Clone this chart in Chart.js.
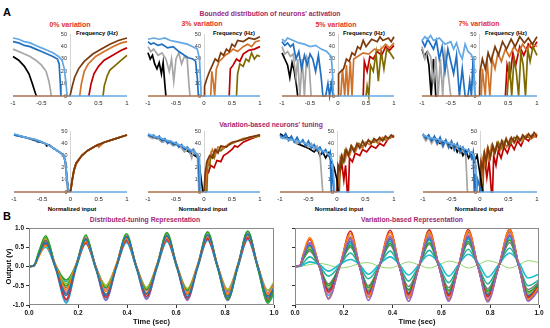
<!DOCTYPE html>
<html>
<head>
<meta charset="utf-8">
<script src="https://cdn.jsdelivr.net/npm/chart.js@4.4.1/dist/chart.umd.min.js"></script>
<style>
html, body { margin: 0; padding: 0; background: #fff; }
body { width: 550px; height: 328px; position: relative; overflow: hidden; font-family: "Liberation Sans", Arial, sans-serif; }
canvas { position: absolute; }
.t { position: absolute; white-space: nowrap; font-weight: bold; transform: translate(-50%, -50%); line-height: 1; }
.l { position: absolute; white-space: nowrap; font-weight: bold; transform: translateY(-50%); line-height: 1; font-size: 5.8px; }
.purple { color: #a2276f; }
.red { color: #e3312d; }
</style>
</head>
<body>
<div class="t" style="left:7px;top:12px;font-size:11px">A</div>
<div class="t purple" style="left:270px;top:14px;font-size:6.8px">Bounded distribution of neurons' activation</div>
<div class="t red" style="left:70px;top:24px;font-size:7px">0% variation</div>
<div class="t red" style="left:202px;top:23px;font-size:7px">3% variation</div>
<div class="t red" style="left:336px;top:24px;font-size:7px">5% variation</div>
<div class="t red" style="left:479px;top:23px;font-size:7px">7% variation</div>
<div class="l" style="left:76px;top:34px">Frequency (Hz)</div>
<div class="l" style="left:213px;top:34px">Frequency (Hz)</div>
<div class="l" style="left:343px;top:34px">Frequency (Hz)</div>
<div class="l" style="left:485px;top:34px">Frequency (Hz)</div>
<div class="t purple" style="left:271px;top:125px;font-size:6.8px">Variation-based neurons' tuning</div>
<div class="t" style="left:72px;top:209px;font-size:6px">Normalized input</div>
<div class="t" style="left:203px;top:209px;font-size:6px">Normalized input</div>
<div class="t" style="left:339px;top:209px;font-size:6px">Normalized input</div>
<div class="t" style="left:479px;top:209px;font-size:6px">Normalized input</div>
<div class="t" style="left:7px;top:216px;font-size:11px">B</div>
<div class="t purple" style="left:145px;top:220px;font-size:6.8px">Distributed-tuning Representation</div>
<div class="t purple" style="left:412px;top:220px;font-size:6.8px">Variation-based Representation</div>

<script>
// ---------- panel A data ----------
const xTicksA = [-1, -0.5, 0, 0.5, 1];
const yTicksA = [0, 10, 20, 30, 40, 50];
// black, gray, blue, light blue, dark brown, orange, red, olive
const curveColors = ['#000000', '#a6a6a6', '#1f6fc2', '#62a8e5', '#7b3a0c', '#d0722a', '#c00000', '#7f6a00'];
const zeroLeft = [[-1, 0], [0, 0]];
const zeroRight = [[0, 0], [1, 0]];

// bounded distribution of activation
const bounded0 = [
  [[-1,32],[-0.9,29],[-0.8,24],[-0.72,18],[-0.66,10],[-0.62,4],[-0.59,0]],
  [[-1,38],[-0.9,36],[-0.8,34],[-0.7,32],[-0.6,29],[-0.5,25],[-0.42,20],[-0.37,12],[-0.34,4],[-0.33,0]],
  [[-1,44],[-0.9,43],[-0.8,41],[-0.7,40],[-0.6,38],[-0.5,36],[-0.4,34],[-0.3,32],[-0.22,30],[-0.19,26],[-0.17,10],[-0.16,0]],
  [[-1,47],[-0.9,46],[-0.8,44],[-0.7,43],[-0.6,41],[-0.5,39],[-0.4,37],[-0.3,35],[-0.2,32],[-0.14,29],[-0.1,22],[-0.07,10],[-0.05,0]],
  [[0,0],[0.04,8],[0.08,15],[0.15,22],[0.25,28],[0.4,34],[0.55,38],[0.7,42],[0.85,45],[1,47]],
  [[0.17,0],[0.2,10],[0.25,20],[0.32,26],[0.45,32],[0.6,36],[0.75,40],[0.9,43],[1,44]],
  [[0.33,0],[0.37,10],[0.42,18],[0.5,24],[0.6,29],[0.75,33],[0.9,37],[1,39]],
  [[0.58,0],[0.6,8],[0.65,16],[0.7,21],[0.8,25],[0.9,29],[1,33]]
];
const bounded3 = [
  [[-1,35],[-0.96,30],[-0.92,33],[-0.88,26],[-0.84,22],[-0.8,27],[-0.76,18],[-0.73,27],[-0.7,10],[-0.68,0]],
  [[-1,40],[-0.95,36],[-0.9,38],[-0.82,33],[-0.75,35],[-0.68,30],[-0.62,20],[-0.58,30],[-0.54,12],[-0.5,30],[-0.45,35],[-0.4,26],[-0.35,32],[-0.3,30],[-0.27,10],[-0.25,0]],
  [[-1,44],[-0.95,42],[-0.9,43],[-0.82,41],[-0.75,42],[-0.65,39],[-0.55,40],[-0.45,36],[-0.35,33],[-0.28,31],[-0.2,30],[-0.15,28],[-0.12,15],[-0.1,0]],
  [[-1,46],[-0.9,47],[-0.8,46],[-0.7,47],[-0.6,45],[-0.5,44],[-0.4,43],[-0.3,42],[-0.2,40],[-0.12,38],[-0.08,30],[-0.06,10],[-0.05,0]],
  [[0,0],[0.01,8],[0.05,14],[0.1,20],[0.15,25],[0.2,30],[0.25,28],[0.3,35],[0.35,33],[0.4,38],[0.45,36],[0.5,42],[0.55,40],[0.6,45],[0.7,44],[0.8,47],[0.9,46],[1,48]],
  [[0.12,0],[0.14,20],[0.17,10],[0.19,0],[0.22,22],[0.27,28],[0.32,30],[0.38,33],[0.45,35],[0.52,38],[0.6,36],[0.7,40],[0.78,42],[0.85,40],[0.92,44],[1,45]],
  [[0.45,0],[0.47,22],[0.52,25],[0.58,30],[0.64,28],[0.7,34],[0.8,37],[0.9,38],[1,40]],
  [[0.58,0],[0.6,18],[0.64,26],[0.7,24],[0.75,30],[0.8,28],[0.85,35],[0.9,30],[0.95,33],[1,32]]
];
const bounded5 = [
  [[-1,35],[-0.95,30],[-0.9,25],[-0.86,15],[-0.82,27],[-0.78,20],[-0.74,8],[-0.72,0]],
  [[-1,40],[-0.95,34],[-0.9,36],[-0.85,32],[-0.8,34],[-0.75,15],[-0.72,30],[-0.68,0],[-0.64,30],[-0.6,0],[-0.56,32],[-0.52,28],[-0.48,0]],
  [[-1,44],[-0.95,41],[-0.9,43],[-0.85,40],[-0.8,42],[-0.75,30],[-0.7,36],[-0.65,22],[-0.6,33],[-0.55,25],[-0.5,34],[-0.45,30],[-0.4,20],[-0.35,33],[-0.3,15],[-0.27,0],[-0.22,0],[-0.18,10],[-0.15,0],[-0.12,10],[-0.09,0]],
  [[-1,46],[-0.95,44],[-0.9,47],[-0.8,45],[-0.7,43],[-0.6,42],[-0.5,40],[-0.4,41],[-0.3,38],[-0.2,36],[-0.12,32],[-0.1,20],[-0.08,0]],
  [[0,0],[0.01,18],[0.05,20],[0.1,22],[0.15,30],[0.2,28],[0.25,35],[0.3,33],[0.35,40],[0.4,38],[0.45,45],[0.5,40],[0.55,43],[0.6,46],[0.7,44],[0.75,48],[0.8,45],[0.9,47],[0.95,44],[1,48]],
  [[0.05,0],[0.08,22],[0.12,0],[0.15,25],[0.18,0],[0.22,28],[0.25,0],[0.28,30],[0.35,32],[0.45,35],[0.55,34],[0.65,38],[0.75,37],[0.85,42],[0.92,39],[1,43]],
  [[0.45,0],[0.47,28],[0.52,20],[0.57,32],[0.63,30],[0.7,36],[0.78,33],[0.85,40],[0.92,37],[1,41]],
  [[0.5,0],[0.52,8],[0.55,0],[0.58,25],[0.63,20],[0.68,35],[0.72,12],[0.77,36],[0.82,22],[0.87,38],[0.93,35],[1,30]]
];
const bounded7 = [
  [[-1,38],[-0.96,32],[-0.92,35],[-0.88,25],[-0.84,0],[-0.8,30],[-0.76,0],[-0.73,0]],
  [[-1,40],[-0.95,30],[-0.9,36],[-0.85,32],[-0.8,10],[-0.76,32],[-0.72,0],[-0.68,30],[-0.64,0],[-0.6,35],[-0.55,20],[-0.5,0]],
  [[-1,45],[-0.95,40],[-0.9,46],[-0.85,42],[-0.8,38],[-0.75,45],[-0.7,30],[-0.65,40],[-0.6,20],[-0.55,38],[-0.5,28],[-0.45,18],[-0.4,33],[-0.35,0],[-0.3,22],[-0.25,0],[-0.2,0],[-0.17,12],[-0.14,0],[-0.11,32],[-0.08,0]],
  [[-1,45],[-0.95,48],[-0.9,46],[-0.85,49],[-0.8,45],[-0.7,47],[-0.6,42],[-0.5,44],[-0.45,38],[-0.4,43],[-0.35,35],[-0.3,30],[-0.25,42],[-0.2,36],[-0.15,34],[-0.1,30],[-0.08,0]],
  [[0,0],[0.01,20],[0.05,30],[0.1,22],[0.15,35],[0.2,28],[0.27,40],[0.33,33],[0.4,44],[0.47,38],[0.55,46],[0.62,40],[0.7,48],[0.78,43],[0.85,47],[0.92,42],[1,48]],
  [[0.03,0],[0.05,22],[0.1,0],[0.13,30],[0.18,0],[0.22,30],[0.27,22],[0.32,35],[0.38,28],[0.45,38],[0.52,32],[0.6,40],[0.68,35],[0.75,42],[0.82,37],[0.9,43],[1,40]],
  [[0.45,0],[0.48,25],[0.53,15],[0.58,35],[0.63,25],[0.7,40],[0.77,33],[0.85,42],[0.92,38],[1,44]],
  [[0.48,0],[0.52,28],[0.56,0],[0.6,30],[0.64,20],[0.68,0],[0.72,35],[0.76,25],[0.8,0],[0.84,38],[0.88,28],[0.93,40],[1,33]]
];

// variation-based tuning
const tuning0 = [
  [[-1,47],[-0.8,45],[-0.6,42],[-0.45,40],[-0.42,38],[-0.38,39],[-0.3,36],[-0.2,33],[-0.12,30],[-0.09,25],[-0.06,10],[-0.03,0]],
  [[-1,47],[-0.8,45],[-0.6,43],[-0.4,39],[-0.3,36],[-0.2,33],[-0.12,30],[-0.09,24],[-0.05,0]],
  [[-1,47],[-0.8,45],[-0.62,43],[-0.58,41],[-0.55,42],[-0.4,39],[-0.3,36],[-0.2,33],[-0.12,30],[-0.09,24],[-0.04,0]],
  [[-1,48],[-0.9,46.5],[-0.8,45],[-0.7,44],[-0.6,43],[-0.5,41],[-0.4,39],[-0.3,36],[-0.2,33],[-0.12,30],[-0.09,25],[-0.06,10],[-0.03,0]],
  [[0,0],[0.03,10],[0.06,18],[0.1,24],[0.2,30],[0.3,34],[0.45,38],[0.6,41],[0.8,44],[1,47]],
  [[0,0],[0.03,10],[0.06,18],[0.1,24],[0.2,30],[0.3,34],[0.45,38],[0.48,39],[0.5,37],[0.6,41],[0.8,44],[1,47]],
  [[0,0],[0.03,9],[0.06,17],[0.1,23],[0.2,30],[0.3,34],[0.45,38],[0.6,41],[0.8,44],[1,47]],
  [[0,0],[0.03,10],[0.06,18],[0.1,24],[0.2,30],[0.3,34],[0.45,38],[0.6,41],[0.8,44],[1,47]]
];
const tuning3 = [
  [[-1,47],[-0.9,45],[-0.8,44],[-0.7,42],[-0.6,41],[-0.5,39],[-0.4,37],[-0.3,34],[-0.2,31],[-0.1,28],[-0.05,10],[-0.02,0]],
  [[-1,46],[-0.92,44],[-0.85,45],[-0.75,41],[-0.65,42],[-0.55,38],[-0.45,39],[-0.35,33],[-0.28,36],[-0.22,28],[-0.18,35],[-0.12,30],[-0.09,0]],
  [[-1,47],[-0.95,46],[-0.9,47],[-0.85,44],[-0.8,46],[-0.75,42],[-0.7,44],[-0.65,40],[-0.6,42],[-0.55,39],[-0.5,41],[-0.45,37],[-0.4,39],[-0.35,35],[-0.3,37],[-0.25,33],[-0.2,35],[-0.15,31],[-0.1,30],[-0.08,0]],
  [[-1,48],[-0.9,46],[-0.8,45],[-0.7,43],[-0.6,42],[-0.5,40],[-0.4,38],[-0.3,36],[-0.2,34],[-0.12,31],[-0.08,28],[-0.06,0]],
  [[0,0],[0.02,15],[0.05,25],[0.1,30],[0.15,28],[0.2,35],[0.25,32],[0.3,38],[0.4,37],[0.5,41],[0.6,42],[0.7,43],[0.8,45],[0.9,46],[1,47]],
  [[0.02,0],[0.05,20],[0.1,28],[0.15,35],[0.2,30],[0.25,37],[0.35,36],[0.45,40],[0.55,41],[0.65,43],[0.75,44],[0.85,45],[1,47]],
  [[0.02,0],[0.03,18],[0.08,16],[0.12,22],[0.18,20],[0.23,26],[0.3,25],[0.35,30],[0.42,32],[0.5,35],[0.55,38],[0.6,37],[0.7,41],[0.8,43],[0.9,45],[1,47]],
  [[0.05,0],[0.07,25],[0.1,22],[0.13,32],[0.18,28],[0.22,35],[0.3,34],[0.4,38],[0.5,40],[0.6,42],[0.7,44],[0.85,45],[1,46]]
];
const tuning5 = [
  [[-1,48],[-0.9,45],[-0.8,44],[-0.7,40],[-0.6,38],[-0.5,36],[-0.4,33],[-0.35,36],[-0.3,30],[-0.25,33],[-0.2,28],[-0.15,32],[-0.1,25],[-0.05,20],[0,10],[0.02,0]],
  [[-1,46],[-0.95,44],[-0.9,47],[-0.85,42],[-0.8,44],[-0.7,40],[-0.6,42],[-0.5,37],[-0.45,40],[-0.4,35],[-0.35,38],[-0.3,32],[-0.25,0]],
  [[-1,47],[-0.95,45],[-0.9,48],[-0.85,43],[-0.8,46],[-0.75,41],[-0.7,45],[-0.65,40],[-0.6,43],[-0.55,38],[-0.5,42],[-0.45,36],[-0.4,39],[-0.35,34],[-0.3,37],[-0.25,32],[-0.2,35],[-0.15,30],[-0.12,33],[-0.1,0],[-0.08,20],[-0.05,0]],
  [[-1,45],[-0.9,44],[-0.8,43],[-0.7,42],[-0.6,41],[-0.5,39],[-0.4,37],[-0.3,35],[-0.2,33],[-0.12,30],[-0.08,25],[-0.04,0]],
  [[0,0],[0.02,22],[0.05,18],[0.08,30],[0.12,25],[0.16,35],[0.2,30],[0.25,38],[0.3,33],[0.35,40],[0.4,36],[0.45,42],[0.5,38],[0.55,43],[0.6,40],[0.65,44],[0.7,42],[0.75,45],[0.8,42],[0.85,46],[0.9,44],[0.95,47],[1,45]],
  [[0.02,0],[0.05,25],[0.1,30],[0.14,26],[0.18,34],[0.22,30],[0.27,37],[0.32,33],[0.38,39],[0.45,36],[0.5,41],[0.58,39],[0.65,43],[0.72,40],[0.8,45],[0.88,43],[1,47]],
  [[0,0],[0.02,20],[0.05,15],[0.08,25],[0.12,10],[0.15,22],[0.18,0],[0.2,0],[0.22,28],[0.27,25],[0.32,32],[0.4,30],[0.45,35],[0.52,33],[0.6,38],[0.68,36],[0.75,40],[0.82,38],[0.9,44],[1,46]],
  [[0.04,0],[0.06,28],[0.1,24],[0.14,34],[0.2,30],[0.25,38],[0.3,35],[0.38,40],[0.45,38],[0.55,42],[0.65,41],[0.75,44],[0.85,43],[1,46]]
];
const tuning7 = [
  [[-1,47],[-0.95,44],[-0.9,46],[-0.85,42],[-0.8,45],[-0.7,40],[-0.6,42],[-0.5,36],[-0.45,39],[-0.4,33],[-0.35,37],[-0.3,30],[-0.25,34],[-0.2,28],[-0.15,32],[-0.1,25],[-0.05,30],[0,15],[0.05,0]],
  [[-1,46],[-0.95,42],[-0.9,45],[-0.85,40],[-0.8,44],[-0.75,39],[-0.7,43],[-0.65,37],[-0.6,42],[-0.55,36],[-0.5,40],[-0.45,34],[-0.4,38],[-0.35,32],[-0.3,36],[-0.25,30],[-0.22,0]],
  [[-1,48],[-0.95,44],[-0.9,47],[-0.85,42],[-0.8,46],[-0.75,40],[-0.7,45],[-0.65,38],[-0.6,43],[-0.55,37],[-0.5,42],[-0.45,35],[-0.4,40],[-0.35,33],[-0.3,37],[-0.25,31],[-0.2,35],[-0.15,28],[-0.12,33],[-0.1,0],[-0.08,15],[-0.06,0],[-0.04,10],[0.02,0]],
  [[-1,47],[-0.9,45],[-0.8,44],[-0.7,43],[-0.6,41],[-0.5,40],[-0.4,38],[-0.3,36],[-0.2,34],[-0.12,31],[-0.08,25],[-0.05,0]],
  [[0,0],[0.02,25],[0.05,20],[0.08,32],[0.11,24],[0.14,36],[0.18,28],[0.22,38],[0.26,32],[0.3,40],[0.34,35],[0.38,42],[0.42,37],[0.46,44],[0.5,39],[0.55,45],[0.6,41],[0.65,46],[0.7,42],[0.75,47],[0.8,44],[0.85,48],[0.9,45],[0.95,49],[1,46]],
  [[0.02,0],[0.04,28],[0.08,22],[0.12,34],[0.16,27],[0.2,38],[0.25,31],[0.3,40],[0.35,34],[0.4,42],[0.47,37],[0.53,44],[0.6,40],[0.67,45],[0.74,42],[0.82,47],[0.9,44],[1,48]],
  [[0,0],[0.02,22],[0.05,15],[0.08,28],[0.12,12],[0.16,25],[0.2,0],[0.22,0],[0.24,30],[0.28,22],[0.32,34],[0.37,28],[0.42,37],[0.48,32],[0.54,40],[0.6,35],[0.66,42],[0.72,38],[0.78,45],[0.85,42],[0.92,47],[1,45]],
  [[0.05,0],[0.07,30],[0.1,24],[0.14,36],[0.18,29],[0.22,39],[0.27,33],[0.32,41],[0.38,36],[0.45,43],[0.52,39],[0.6,45],[0.7,43],[0.8,46],[0.9,44],[1,47]]
];

// ---------- panel B data ----------
const tDist = [0, 0.02, 0.04, 0.068, 0.108, 0.152, 0.192, 0.232, 0.272, 0.314, 0.356, 0.398, 0.438, 0.48, 0.522, 0.563, 0.604, 0.646, 0.688, 0.729, 0.77, 0.811, 0.852, 0.893, 0.934, 0.975, 1.0];
const tVar = [0, 0.02, 0.035, 0.06, 0.1, 0.137, 0.183, 0.227, 0.265, 0.3, 0.345, 0.39, 0.428, 0.465, 0.508, 0.55, 0.59, 0.63, 0.67, 0.71, 0.75, 0.79, 0.835, 0.88, 0.918, 0.955, 1.0];
const xTicksB = [0, 0.2, 0.4, 0.6, 0.8, 1.0];
const yTicksB = [-1, -0.5, 0, 0.5, 1];
const distColors = ['#1f77b4', '#ff7f0e', '#2ca02c', '#d62728', '#9467bd', '#8c564b', '#e377c2', '#7f7f7f', '#bcbd22', '#17becf', '#2ca02c', '#17becf'];

const distributedTraces = [
  [0,0.02,0.3,0.62,0.0,-0.75,0.02,0.7,-0.02,-0.75,0.0,0.78,0.0,-0.72,0.02,0.8,0.0,-0.78,0.0,0.82,0.0,-0.8,0.02,0.84,0.0,-0.8,-0.55],
  [0,0.01,0.25,0.55,0.05,-0.6,0.05,0.65,0.0,-0.65,0.05,0.72,0.02,-0.68,0.05,0.74,0.03,-0.7,0.04,0.78,0.02,-0.72,0.04,0.8,0.02,-0.72,-0.5],
  [0,0.03,0.38,0.8,0.0,-0.5,0.0,0.82,-0.05,-0.55,0.0,0.85,-0.02,-0.6,0.0,0.88,-0.02,-0.62,0.0,0.9,-0.03,-0.85,0.0,0.92,-0.05,-0.9,-0.65],
  [0,0.02,0.3,0.6,-0.02,-0.85,0.0,0.62,-0.02,-0.8,-0.02,0.68,0.0,-0.78,0.0,0.7,-0.02,-0.82,0.0,0.72,-0.02,-0.85,0.0,0.74,-0.02,-0.85,-0.6],
  [0,0.02,0.28,0.58,0.02,-0.9,0.02,0.6,0.0,-0.88,0.0,0.66,0.0,-0.85,0.0,0.68,0.0,-0.88,0.0,0.7,0.0,-0.88,0.0,0.72,0.0,-0.9,-0.62],
  [0,0.02,0.32,0.68,0.0,-0.7,0.0,0.72,0.0,-0.72,0.0,0.75,0.0,-0.7,0.0,0.78,0.0,-0.72,0.0,0.8,0.0,-0.75,0.0,0.82,0.0,-0.75,-0.55],
  [0,0.02,0.3,0.65,0.02,-0.65,0.02,0.75,0.02,-0.6,0.02,0.8,0.02,-0.62,0.02,0.82,0.02,-0.65,0.02,0.85,0.02,-0.68,0.02,0.88,0.02,-0.7,-0.5],
  [0,0.02,0.3,0.6,0.0,-0.55,0.0,0.68,0.0,-0.6,0.0,0.7,0.0,-0.62,0.0,0.72,0.0,-0.64,0.0,0.75,0.0,-0.66,0.0,0.76,0.0,-0.68,-0.45],
  [0,0.02,0.35,0.72,0.0,-0.45,0.05,0.78,0.0,-0.5,0.05,0.82,0.02,-0.55,0.05,0.85,0.02,-0.58,0.05,0.86,0.02,-0.6,0.05,0.88,0.02,-0.62,-0.4],
  [0,0.02,0.3,0.5,-0.05,-0.95,-0.05,0.6,-0.05,-0.85,-0.05,0.65,-0.05,-0.82,-0.05,0.66,-0.05,-0.85,-0.05,0.68,-0.05,-0.88,-0.05,0.7,-0.05,-0.9,-0.7],
  [0,0.02,0.36,0.75,0.05,-0.35,0.05,0.78,0.0,-0.5,0.02,0.8,0.0,-0.55,0.02,0.84,0.0,-0.6,0.0,0.86,0.0,-0.62,0.0,0.9,-0.02,-0.95,-0.7],
  [0,0.02,0.3,0.55,0.0,-0.4,0.0,0.6,0.0,-0.5,0.0,0.62,0.0,-0.55,0.0,0.65,0.0,-0.58,0.0,0.68,0.0,-0.6,0.0,0.7,0.0,-0.62,-0.45]
];
const variationTraces = [
  [0,0.02,0.3,0.62,0.0,-0.85,0.0,0.7,0.0,-0.88,0.0,0.75,0.0,-0.9,0.0,0.78,0.0,-0.9,0.0,0.8,0.0,-0.92,0.0,0.82,0.0,-0.9,-0.6],
  [0,0.02,0.35,0.75,0.0,-0.82,0.0,0.85,0.0,-0.8,0.0,0.88,0.0,-0.82,0.0,0.9,0.0,-0.85,0.0,0.92,0.0,-0.88,0.0,0.95,0.0,-0.85,-0.55],
  [0,0.02,0.33,0.7,0.0,-0.65,0.0,0.92,0.0,-0.7,0.0,0.94,0.0,-0.72,0.0,0.95,0.0,-0.75,0.0,0.96,0.0,-0.78,0.0,0.97,0.0,-0.8,-0.5],
  [0,0.02,0.28,0.55,0.0,-0.6,0.0,0.65,0.0,-0.65,0.0,0.7,0.0,-0.68,0.0,0.72,0.0,-0.7,0.0,0.75,0.0,-0.72,0.0,0.78,0.0,-0.75,-0.5],
  [0,0.02,0.22,0.45,0.0,-0.5,0.0,0.55,0.0,-0.55,0.0,0.6,0.0,-0.6,0.0,0.62,0.0,-0.62,0.0,0.65,0.0,-0.64,0.0,0.68,0.0,-0.66,-0.45],
  [0,0.02,0.3,0.6,0.0,-0.7,0.0,0.78,0.0,-0.75,0.0,0.8,0.0,-0.78,0.0,0.82,0.0,-0.8,0.0,0.85,0.0,-0.82,0.0,0.86,0.0,-0.84,-0.55],
  [0,0.02,0.2,0.4,0.0,-0.45,0.0,0.5,0.0,-0.5,0.0,0.55,0.0,-0.52,0.0,0.58,0.0,-0.55,0.0,0.6,0.0,-0.58,0.0,0.62,0.0,-0.6,-0.4],
  [0,0.02,0.25,0.5,0.0,-0.55,0.0,0.7,0.0,-0.6,0.0,0.72,0.0,-0.62,0.0,0.75,0.0,-0.65,0.0,0.78,0.0,-0.68,0.0,0.8,0.0,-0.7,-0.45],
  [0,0.0,0.05,0.12,0.05,-0.12,0.05,0.18,0.05,-0.2,0.05,0.25,0.05,-0.22,0.05,0.3,0.1,-0.25,0.05,0.32,0.1,-0.28,0.05,0.35,0.1,-0.3,-0.2],
  [0,0.01,0.1,0.25,0.02,-0.25,0.02,0.35,0.02,-0.32,0.02,0.4,0.02,-0.38,0.02,0.42,0.02,-0.42,0.02,0.45,0.02,-0.45,0.02,0.48,0.02,-0.5,-0.35],
  [0,0.02,0.28,0.58,0.0,-0.68,0.0,0.72,0.0,-0.72,0.0,0.76,0.0,-0.75,0.0,0.78,0.0,-0.78,0.0,0.8,0.0,-0.8,0.0,0.82,0.0,-0.82,-0.55],
  [0,0.02,0.25,0.5,0.0,-0.75,0.0,0.6,0.0,-0.8,0.0,0.65,0.0,-0.82,0.0,0.68,0.0,-0.85,0.0,0.7,0.0,-0.86,0.0,0.72,0.0,-0.88,-0.6],
  [0,0.02,0.3,0.6,0.0,-0.6,0.0,0.75,0.0,-0.65,0.0,0.8,0.0,-0.7,0.0,0.85,0.0,-0.72,0.0,0.88,0.0,-0.75,0.0,0.9,0.0,-0.78,-0.5],
  [0,0.0,0.02,0.05,0.08,0.04,-0.04,0.0,0.08,0.1,0.0,-0.04,0.04,0.12,0.04,-0.04,0.04,0.14,0.08,-0.04,0.04,0.15,0.08,-0.04,0.04,0.15,0.1]
];
const variationColors = ['#9467bd', '#ff7f0e', '#d62728', '#1f77b4', '#2ca02c', '#e377c2', '#7f7f7f', '#bcbd22', '#17becf', '#1fb5a0', '#8c564b', '#17becf', '#2ca02c', '#8fd46a'];

// ---------- layout ----------
// [left, right, top(50), bottom(0)] of each plot area
const boundedBoxes = [[13, 127, 34, 96], [148, 260, 34, 96], [282, 394, 34, 96], [422, 537, 34, 96]];
const tuningBoxes = [[14, 127, 131, 192], [148, 260, 131, 192], [280, 394, 131, 192], [423, 537, 131, 192]];

Chart.defaults.font.family = '"Liberation Sans", Arial, sans-serif';
Chart.defaults.animation = false;
Chart.defaults.plugins.legend.display = false;
Chart.defaults.plugins.tooltip.enabled = false;

function addCanvas(left, top, w, h) {
    const c = document.createElement('canvas');
    c.width = w;
    c.height = h;
    c.style.left = left + 'px';
    c.style.top = top + 'px';
    document.body.appendChild(c);
    return c;
}

function neuronChart(box, curves) {
    const [L, R, T, B] = box;
    const cv = addCanvas(L - 10, T - 6, R - L + 20, B - T + 18);
    // first dataset ends up on top
    const order = [3, 2, 1, 0, 4, 5, 7, 6];
    const datasets = [
        { data: zeroRight, borderColor: curveColors[3] },
        { data: zeroLeft, borderColor: '#a9704a' }
    ];
    order.forEach(i => datasets.push({ data: curves[i], borderColor: curveColors[i] }));
    datasets.forEach(d => { d.borderWidth = 1.7; d.pointRadius = 0; d.tension = 0; d.clip = false; });

    new Chart(cv, {
        type: 'line',
        data: { datasets },
        options: {
            responsive: false,
            layout: { padding: { left: 10, right: 10, top: 6, bottom: 0 } },
            scales: {
                x: {
                    type: 'linear', min: -1, max: 1,
                    afterBuildTicks: s => { s.ticks = xTicksA.map(v => ({ value: v })); },
                    afterFit: s => { s.height = 12; },
                    grid: { display: false, drawTicks: false },
                    border: { display: false },
                    ticks: { font: { size: 6 }, color: '#222', padding: 4, maxRotation: 0, autoSkip: false, callback: v => String(v) }
                },
                y: {
                    type: 'linear', min: 0, max: 50, position: { x: 0 },
                    afterBuildTicks: s => { s.ticks = yTicksA.map(v => ({ value: v })); },
                    grid: { display: false, drawTicks: false },
                    border: { display: true, color: '#d4d4d4', width: 1 },
                    ticks: { font: { size: 5.5 }, color: '#333', callback: v => v + '  ' }
                }
            }
        }
    });
}

boundedBoxes.forEach((b, i) => neuronChart(b, [bounded0, bounded3, bounded5, bounded7][i]));
tuningBoxes.forEach((b, i) => neuronChart(b, [tuning0, tuning3, tuning5, tuning7][i]));

const frame = {
    id: 'frame',
    afterDatasetsDraw(c) {
        const a = c.chartArea, g = c.ctx;
        g.save();
        g.strokeStyle = '#8a8a8a';
        g.lineWidth = 1;
        g.strokeRect(a.left + 0.5, a.top + 0.5, a.right - a.left - 1, a.bottom - a.top - 1);
        g.restore();
    }
};

function waveChart(left, width, yAxisWidth, padRight, times, traces, colors, showY) {
    const cv = addCanvas(left, 222, width, 106);
    const datasets = traces.map((tr, i) => ({
        data: times.map((t, k) => [t, tr[k]]),
        borderColor: colors[i % colors.length],
        borderWidth: i === 13 ? 1 : 1.6,
        pointRadius: 0,
        cubicInterpolationMode: 'monotone'
    }));
    const tickFont = { size: 6.5, weight: 'bold' };
    new Chart(cv, {
        type: 'line',
        data: { datasets },
        plugins: [frame],
        options: {
            responsive: false,
            layout: { padding: { left: 0, right: padRight, top: 6, bottom: 0 } },
            scales: {
                x: {
                    type: 'linear', min: 0, max: 1,
                    afterBuildTicks: s => { s.ticks = xTicksB.map(v => ({ value: v })); },
                    afterFit: s => { s.height = 23; },
                    grid: { display: true, drawOnChartArea: false, tickLength: 3, color: '#333' },
                    border: { display: false },
                    ticks: { font: tickFont, color: '#111', padding: 1, maxRotation: 0, autoSkip: false, callback: v => v.toFixed(1) },
                    title: { display: true, text: 'Time (sec)', font: { size: 7.5, weight: 'bold' }, color: '#111', padding: { top: 0, bottom: 2 } }
                },
                y: {
                    type: 'linear', min: -1, max: 1,
                    afterBuildTicks: s => { s.ticks = yTicksB.map(v => ({ value: v })); },
                    afterFit: s => { s.width = yAxisWidth; },
                    grid: { display: true, drawOnChartArea: false, tickLength: 3, color: '#333' },
                    border: { display: false },
                    ticks: { display: showY, font: tickFont, color: '#111', padding: 2, callback: v => v.toFixed(1) },
                    title: { display: showY, text: 'Output (v)', font: { size: 7.5, weight: 'bold' }, color: '#111', padding: { top: 4, bottom: 0 } }
                }
            }
        }
    });
}

waveChart(0, 284, 29, 10, tDist, distributedTraces, distColors, true);
waveChart(280, 270, 15, 11, tVar, variationTraces, variationColors, false);
</script>
</body>
</html>
